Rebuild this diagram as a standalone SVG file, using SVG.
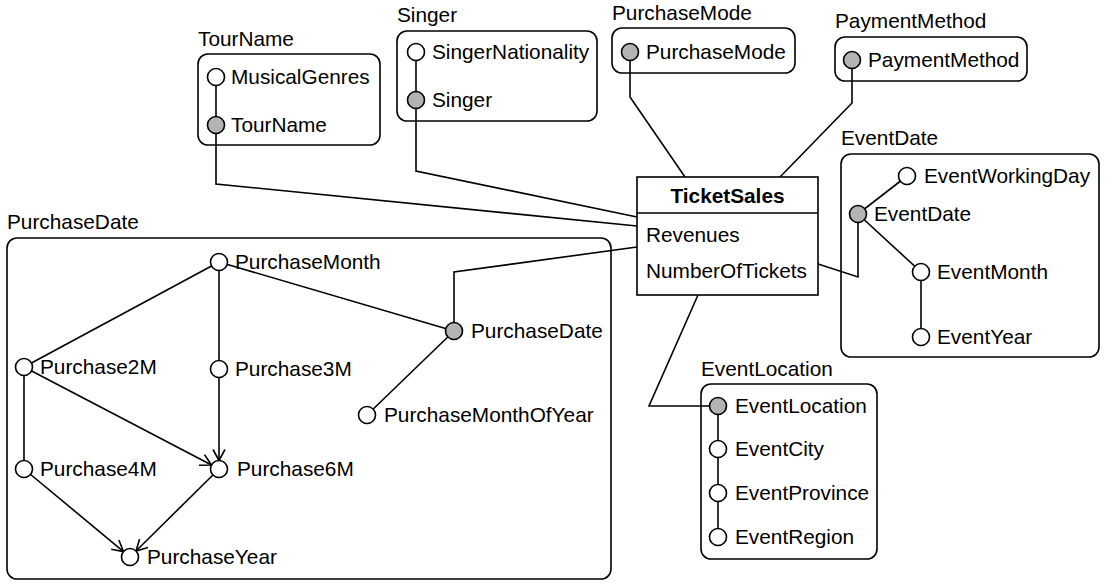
<svg xmlns="http://www.w3.org/2000/svg" width="1107" height="588" viewBox="0 0 1107 588">
<style>
text{font-family:"Liberation Sans",Arial,sans-serif;font-size:20.8px;fill:#000}
.box{fill:none;stroke:#000;stroke-width:1.6}
.ln{fill:none;stroke:#000;stroke-width:1.6}
.o{fill:#fff;stroke:#000;stroke-width:1.6}
.k{fill:#b3b3b3;stroke:#000;stroke-width:1.6}
.b{font-weight:bold}
</style>
<defs>
<marker id="arr" markerUnits="userSpaceOnUse" markerWidth="14" markerHeight="14" refX="12" refY="7" orient="auto">
<path d="M1,1 L12,7 L1,13" fill="none" stroke="#000" stroke-width="1.6"/>
</marker>
</defs>
<rect width="1107" height="588" fill="#fff"/>

<g id="connectors">
<polyline class="ln" points="216,125 216,184 637,226"/>
<polyline class="ln" points="416,100 416,171 637,217"/>
<polyline class="ln" points="630,52 630,97 685,177"/>
<polyline class="ln" points="852,60 852,103 780,177"/>
<polyline class="ln" points="454,331 454,272 637,247"/>
<polyline class="ln" points="815,263 858,277 858,214"/>
<polyline class="ln" points="698,295 649,406 718,406"/>
</g>

<g id="TourName">
<text x="198" y="46">TourName</text>
<rect class="box" x="198" y="54" width="182" height="91" rx="10"/>
<line class="ln" x1="216" y1="77" x2="216" y2="125"/>
<circle class="o" cx="216" cy="77" r="8.5"/>
<circle class="k" cx="216" cy="125" r="8.5"/>
<text x="231" y="84">MusicalGenres</text>
<text x="231" y="132">TourName</text>
</g>

<g id="Singer">
<text x="397" y="22">Singer</text>
<rect class="box" x="397" y="31" width="200" height="90" rx="10"/>
<line class="ln" x1="416" y1="52" x2="416" y2="100"/>
<circle class="o" cx="416" cy="52" r="8.5"/>
<circle class="k" cx="416" cy="100" r="8.5"/>
<text x="432" y="59">SingerNationality</text>
<text x="432" y="107">Singer</text>
</g>

<g id="PurchaseMode">
<text x="612" y="20">PurchaseMode</text>
<rect class="box" x="612" y="28" width="183" height="45" rx="10"/>
<circle class="k" cx="630" cy="52" r="8.5"/>
<text x="646" y="59">PurchaseMode</text>
</g>

<g id="PaymentMethod">
<text x="835" y="28">PaymentMethod</text>
<rect class="box" x="835" y="37" width="192" height="44" rx="10"/>
<circle class="k" cx="852" cy="60" r="8.5"/>
<text x="868" y="67">PaymentMethod</text>
</g>

<g id="TicketSales">
<rect class="box" x="637" y="177" width="181" height="118" style="fill:#fff"/>
<line class="ln" x1="637" y1="213" x2="818" y2="213"/>
<text class="b" x="727.5" y="203" text-anchor="middle">TicketSales</text>
<text x="646" y="242">Revenues</text>
<text x="646" y="278">NumberOfTickets</text>
</g>

<g id="EventDate">
<text x="841" y="145">EventDate</text>
<rect class="box" x="841" y="154" width="258" height="203" rx="10"/>
<line class="ln" x1="858" y1="214" x2="907" y2="176"/>
<line class="ln" x1="858" y1="214" x2="921" y2="272"/>
<line class="ln" x1="921" y1="272" x2="921" y2="337"/>
<circle class="o" cx="907" cy="176" r="8.5"/>
<circle class="k" cx="858" cy="214" r="8.5"/>
<circle class="o" cx="921" cy="272" r="8.5"/>
<circle class="o" cx="921" cy="337" r="8.5"/>
<text x="924" y="183">EventWorkingDay</text>
<text x="874" y="221">EventDate</text>
<text x="937" y="279">EventMonth</text>
<text x="937" y="344">EventYear</text>
</g>

<g id="EventLocation">
<text x="701" y="376">EventLocation</text>
<rect class="box" x="701" y="384" width="176" height="175" rx="10"/>
<line class="ln" x1="718" y1="406" x2="718" y2="537"/>
<circle class="k" cx="718" cy="406" r="8.5"/>
<circle class="o" cx="718" cy="449" r="8.5"/>
<circle class="o" cx="718" cy="493" r="8.5"/>
<circle class="o" cx="718" cy="537" r="8.5"/>
<text x="735" y="413">EventLocation</text>
<text x="735" y="456">EventCity</text>
<text x="735" y="500">EventProvince</text>
<text x="735" y="544">EventRegion</text>
</g>

<g id="PurchaseDate">
<text x="7" y="229">PurchaseDate</text>
<rect class="box" x="7" y="238" width="604" height="341" rx="10"/>
<line class="ln" x1="219" y1="262" x2="24" y2="367"/>
<line class="ln" x1="219" y1="262" x2="219" y2="369"/>
<line class="ln" x1="219" y1="262" x2="454" y2="331"/>
<line class="ln" x1="454" y1="331" x2="367" y2="415"/>
<line class="ln" x1="24" y1="367" x2="24" y2="469"/>
<line class="ln" x1="24" y1="367" x2="211.5" y2="465" marker-end="url(#arr)"/>
<line class="ln" x1="219" y1="369" x2="219" y2="460.5" marker-end="url(#arr)"/>
<line class="ln" x1="24" y1="469" x2="123.5" y2="551.6" marker-end="url(#arr)"/>
<line class="ln" x1="219" y1="469" x2="136" y2="551" marker-end="url(#arr)"/>
<circle class="o" cx="219" cy="262" r="8.5"/>
<circle class="o" cx="24" cy="367" r="8.5"/>
<circle class="o" cx="219" cy="369" r="8.5"/>
<circle class="k" cx="454" cy="331" r="8.5"/>
<circle class="o" cx="367" cy="415" r="8.5"/>
<circle class="o" cx="24" cy="469" r="8.5"/>
<circle class="o" cx="219" cy="469" r="8.5"/>
<circle class="o" cx="130" cy="557" r="8.5"/>
<text x="235" y="269">PurchaseMonth</text>
<text x="40" y="374">Purchase2M</text>
<text x="235" y="376">Purchase3M</text>
<text x="471" y="338">PurchaseDate</text>
<text x="384" y="422">PurchaseMonthOfYear</text>
<text x="40" y="476">Purchase4M</text>
<text x="237" y="476">Purchase6M</text>
<text x="147" y="564">PurchaseYear</text>
</g>
</svg>
